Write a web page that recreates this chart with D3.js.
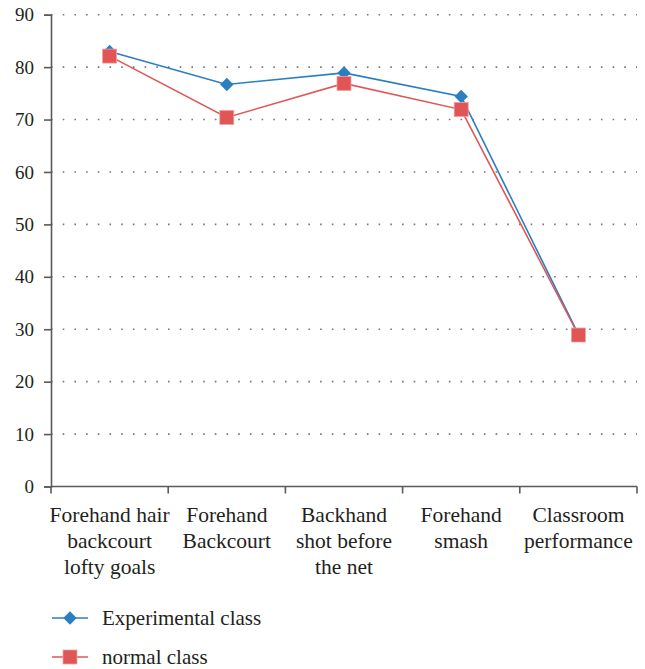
<!DOCTYPE html>
<html>
<head>
<meta charset="utf-8">
<script src="https://cdn.jsdelivr.net/npm/d3@7"></script>
<style>
  html, body { margin: 0; padding: 0; background: #fff; }
  svg text { font-family: 'Liberation Serif', 'Times New Roman', Times, 'DejaVu Serif', serif !important; }
</style>
</head>
<body>
<svg id="chart" width="645" height="669"></svg>
<script>
// Skill categories (each label split into display lines)
const categories = [
  ["Forehand hair", "backcourt", "lofty goals"],
  ["Forehand", "Backcourt"],
  ["Backhand", "shot before", "the net"],
  ["Forehand", "smash"],
  ["Classroom", "performance"]
];
const experimental = [83, 76.7, 78.9, 74.4, 29];
const normal = [82.1, 70.4, 76.9, 71.9, 28.9];
const yTicks = [0, 10, 20, 30, 40, 50, 60, 70, 80, 90];
const seriesNames = ["Experimental class", "normal class"];

const blue = "#2b7fc1";
const red = "#e05656";
const axisColor = "#5a5a5a";
const textColor = "#231f20";
const serif = "'Liberation Serif', 'Times New Roman', Times, serif";

const svg = d3.select("#chart");
const margin = { left: 51, right: 8, top: 14.7, bottom: 182.5 };
const W = 645, H = 669;
const plotW = W - margin.left - margin.right;
const plotH = H - margin.top - margin.bottom;

const x = d3.scaleBand().domain(d3.range(categories.length)).range([0, plotW]).padding(0);
const y = d3.scaleLinear().domain([0, 90]).range([plotH, 0]);

const g = svg.append("g").attr("transform", `translate(${margin.left},${margin.top})`);

// Dotted horizontal gridlines
g.append("g").selectAll("line").data(yTicks.filter(d => d > 0)).join("line")
  .attr("x1", 0).attr("x2", plotW)
  .attr("y1", d => y(d)).attr("y2", d => y(d))
  .attr("stroke", "#777").attr("stroke-width", 1.6)
  .attr("stroke-dasharray", "1.6 10.1");

// Y axis
const yAxis = g.append("g").call(d3.axisLeft(y).tickValues(yTicks).tickSize(7).tickPadding(10));
yAxis.attr("font-family", serif);
yAxis.select(".domain").attr("stroke", axisColor).attr("stroke-width", 1.6);
yAxis.selectAll(".tick line").attr("stroke", axisColor).attr("stroke-width", 1.6);
yAxis.selectAll(".tick text").attr("fill", textColor).attr("font-size", 19);

// X axis with ticks at band boundaries
const xAxisG = g.append("g").attr("transform", `translate(0,${plotH})`);
xAxisG.append("line").attr("x1", 0).attr("x2", plotW).attr("y1", 0).attr("y2", 0)
  .attr("stroke", axisColor).attr("stroke-width", 1.6);
const bounds = d3.range(categories.length + 1).map(i => i * x.bandwidth());
xAxisG.selectAll("line.tk").data(bounds).join("line").attr("class", "tk")
  .attr("x1", d => d).attr("x2", d => d).attr("y1", 0).attr("y2", 7)
  .attr("stroke", axisColor).attr("stroke-width", 1.6);

const labels = xAxisG.selectAll("text.cat").data(categories).join("text").attr("class", "cat")
  .attr("x", (d, i) => x(i) + x.bandwidth() / 2)
  .attr("y", 35)
  .attr("text-anchor", "middle")
  .attr("fill", textColor)
  .attr("font-family", serif)
  .attr("font-size", 21.5);
labels.selectAll("tspan").data(d => d).join("tspan")
  .attr("x", function () { return d3.select(this.parentNode).attr("x"); })
  .attr("dy", (d, i) => i === 0 ? 0 : 26)
  .text(d => d);

const cx = i => x(i) + x.bandwidth() / 2;
const line = d3.line().x((d, i) => cx(i)).y(d => y(d));

// Series lines
g.append("path").datum(experimental).attr("d", line)
  .attr("fill", "none").attr("stroke", blue).attr("stroke-width", 1.6);
g.append("path").datum(normal).attr("d", line)
  .attr("fill", "none").attr("stroke", red).attr("stroke-width", 1.6);

const diamond = d3.symbol().type(d3.symbolSquare).size(90);
function drawDiamond(sel, px, py) {
  sel.append("path").attr("d", diamond())
    .attr("transform", `translate(${px},${py}) rotate(45)`)
    .attr("fill", blue);
}
function drawSquare(sel, px, py) {
  sel.append("rect").attr("x", px - 7).attr("y", py - 7).attr("width", 14).attr("height", 14)
    .attr("fill", red).attr("stroke", "#f0a0a0").attr("stroke-width", 0.8);
}

experimental.forEach((v, i) => drawDiamond(g, cx(i), y(v)));
normal.forEach((v, i) => drawSquare(g, cx(i), y(v)));

// Legend
const legend = svg.append("g");
const legendItems = [
  { name: seriesNames[0], color: blue, marker: drawDiamond, yy: 618 },
  { name: seriesNames[1], color: red, marker: drawSquare, yy: 657 }
];
legendItems.forEach(it => {
  legend.append("line").attr("x1", 52).attr("x2", 88).attr("y1", it.yy).attr("y2", it.yy)
    .attr("stroke", it.color).attr("stroke-width", 1.6);
  it.marker(legend, 70, it.yy);
  legend.append("text").attr("x", 102).attr("y", it.yy).attr("dy", "0.35em")
    .attr("fill", textColor).attr("font-family", serif).attr("font-size", 21).text(it.name);
});
</script>
</body>
</html>
